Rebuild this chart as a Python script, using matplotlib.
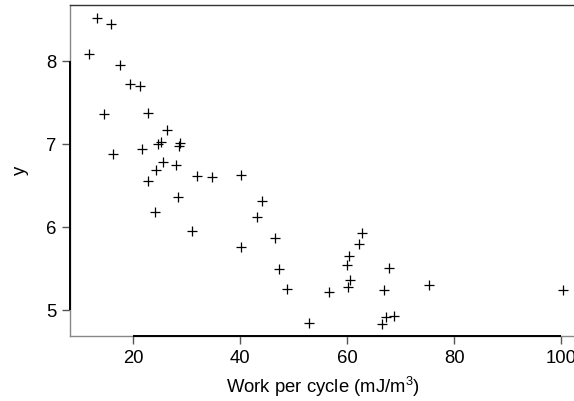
import matplotlib
matplotlib.use("Agg")
import matplotlib.pyplot as plt

plt.rcParams['font.family'] = ['Liberation Sans', 'DejaVu Sans']
plt.rcParams['mathtext.default'] = 'regular'

# work per cycle (mJ/m^3) and y
work = [13.15, 15.77, 11.71, 17.45, 19.38, 21.25, 14.46, 22.75, 26.36, 25.18,
        24.67, 28.73, 28.49, 21.57, 16.14, 25.61, 27.98, 24.19, 22.75, 31.97,
        34.66, 28.36, 24.11, 31.03, 40.14, 44.07, 43.08, 46.56, 40.14, 47.31,
        48.75, 56.60, 52.92, 62.83, 62.16, 60.34, 59.91, 67.83, 60.53, 60.21,
        66.95, 75.36, 67.21, 68.76, 66.52, 100.37]
yvals = [8.52, 8.45, 8.09, 7.95, 7.72, 7.70, 7.36, 7.37, 7.165, 7.02,
         7.00, 7.016, 6.976, 6.943, 6.883, 6.783, 6.751, 6.687, 6.551, 6.611,
         6.599, 6.365, 6.181, 5.955, 6.623, 6.317, 6.120, 5.871, 5.755, 5.494,
         5.249, 5.220, 4.843, 5.924, 5.795, 5.651, 5.542, 5.502, 5.361, 5.273,
         5.237, 5.298, 4.912, 4.928, 4.828, 5.245]

xticks = [20, 40, 60, 80, 100]
yticks = [5, 6, 7, 8]

W, H = 574, 401
fig = plt.figure(figsize=(W / 100, H / 100), dpi=100)
ax = fig.add_axes([70 / W, (H - 336) / H, 506 / W, 331 / H])

ax.plot(work, yvals, linestyle='none', marker='+', markersize=7.5,
        markeredgewidth=0.9, color='black')

x0, x1 = 8.16, 102.8
y0, y1 = 4.687, 8.675
ax.set_xlim(x0, x1)
ax.set_ylim(y0, y1)
ax.set_xticks(xticks)
ax.set_yticks(yticks)

# grey frame, black axis lines spanning the tick range
for side in ['left', 'bottom', 'top', 'right']:
    ax.spines[side].set_color('#888888')
    ax.spines[side].set_linewidth(1.0)
ax.spines['top'].set_color('#333333')
ax.plot([x0, x0], [yticks[0], yticks[-1]], color='black', lw=1.4,
        clip_on=False, solid_capstyle='butt', zorder=3)
ax.plot([xticks[0], xticks[-1]], [y0, y0], color='black', lw=1.4,
        clip_on=False, solid_capstyle='butt', zorder=3)

ax.tick_params(direction='out', length=6, width=1.0, color='#555555',
               labelsize=13.3, pad=4)

ax.set_xlabel('Work per cycle (mJ/m$^3$)', fontsize=13.3, labelpad=6)
ax.set_ylabel('y', fontsize=13.3, labelpad=12)

fig.savefig('out.png', dpi=100)
